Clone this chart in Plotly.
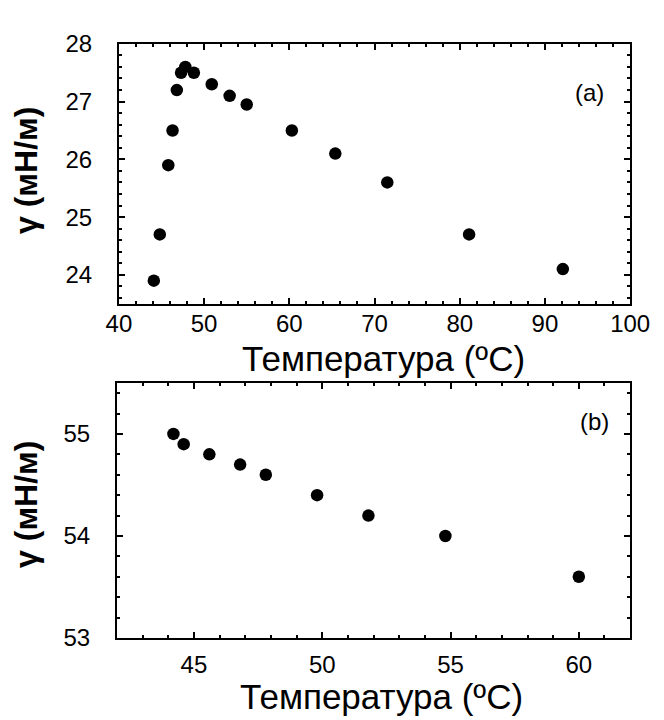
import plotly.graph_objects as go

# Panel (a)
temp_a = [44.1, 44.8, 45.8, 46.3, 46.8, 47.3, 47.8, 48.8, 50.9, 53.0, 55.0, 60.3, 65.4, 71.5, 81.1, 92.1]
gamma_a = [23.9, 24.7, 25.9, 26.5, 27.2, 27.5, 27.6, 27.5, 27.3, 27.1, 26.95, 26.5, 26.1, 25.6, 24.7, 24.1]

# Panel (b)
temp_b = [44.2, 44.6, 45.6, 46.8, 47.8, 49.8, 51.8, 54.8, 60.0]
gamma_b = [55.0, 54.9, 54.8, 54.7, 54.6, 54.4, 54.2, 54.0, 53.6]

x_title = "Температура (ºC)"
y_title = "<b>γ (мН/м)</b>"

W, H = 664, 720
FONT = "Liberation Sans, Arial, sans-serif"

fig = go.Figure()
fig.add_trace(go.Scatter(x=temp_a, y=gamma_a, mode="markers",
                         marker=dict(color="black", size=12.5), xaxis="x", yaxis="y"))
fig.add_trace(go.Scatter(x=temp_b, y=gamma_b, mode="markers",
                         marker=dict(color="black", size=12.5), xaxis="x2", yaxis="y2"))

common = dict(showline=True, linecolor="black", linewidth=2, mirror="ticks",
              ticks="inside", ticklen=6, tickwidth=1.5, tickcolor="black",
              showgrid=False, zeroline=False,
              tickfont=dict(family=FONT, size=24, color="black"))

fig.update_layout(
    width=W, height=H,
    margin=dict(l=0, r=0, t=0, b=0),
    paper_bgcolor="white", plot_bgcolor="white",
    showlegend=False,
    xaxis=dict(domain=[103 / W, 641 / W], anchor="y", range=[40, 100], dtick=10, tick0=40,
               minor=dict(ticks="inside", dtick=2, ticklen=3, tickcolor="black"),
               ticklabelstandoff=-3, **common),
    yaxis=dict(domain=[1 - 292.7 / H, 1 - 22.7 / H], anchor="x", range=[23.5, 28], dtick=1, tick0=24,
               minor=dict(ticks="inside", dtick=0.2, ticklen=3, tickcolor="black"),
               ticklabelstandoff=20, **common),
    xaxis2=dict(domain=[101 / W, 641 / W], anchor="y2", range=[42, 62], dtick=5, tick0=45,
                minor=dict(ticks="inside", dtick=1, ticklen=3, tickcolor="black"),
                ticklabelstandoff=4, **common),
    yaxis2=dict(domain=[1 - 640 / H, 1 - 375 / H], anchor="x2", range=[53, 55.5], dtick=1, tick0=53,
                minor=dict(ticks="inside", dtick=0.2, ticklen=3, tickcolor="black"),
                ticklabelstandoff=20, **common),
)

def ann(text, px, py, size, angle=0, xanchor="center"):
    fig.add_annotation(text=text, x=px / W, y=1 - py / H, xref="paper", yref="paper",
                       showarrow=False, textangle=angle, xanchor=xanchor, yanchor="middle",
                       font=dict(family=FONT, size=size, color="black"))

ann(y_title, 5, 154, 32, -90)
ann(y_title, 5, 501, 32, -90)
ann(x_title, 381, 350, 35)
ann(x_title, 379, 701, 35)
ann("(a)", 598, 73, 24)
ann("(b)", 604, 415, 24)

fig.write_html("out.html")
